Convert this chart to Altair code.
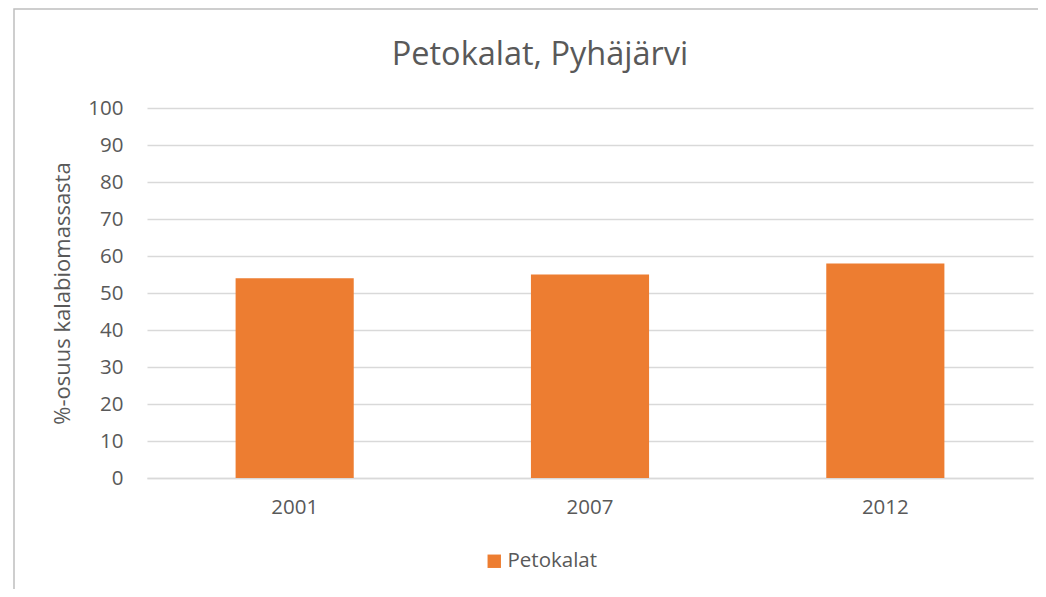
import altair as alt
import pandas as pd

years = ["2001", "2007", "2012"]
values = [54, 55, 58]
series_name = "Petokalat"
chart_title = "Petokalat, Pyhäjärvi"
y_ticks = list(range(0, 101, 10))

df = pd.DataFrame({"Vuosi": years, "Osuus": values, "Sarja": [series_name] * len(years)})

FONT = "Open Sans"
GREY = "#595959"

border = alt.Chart(pd.DataFrame({"a": [0]})).mark_rect(
    fill=None, stroke="#BFBFBF", strokeWidth=1.5, clip=False
).encode(
    x=alt.value(-133), x2=alt.value(930), y=alt.value(-99), y2=alt.value(520)
)

title = alt.Chart(pd.DataFrame({"t": [chart_title]})).mark_text(
    font=FONT, fontSize=32.5, color=GREY, align="center", baseline="middle", clip=False
).encode(text="t:N", x=alt.value(393), y=alt.value(-53))

bars = alt.Chart(df).mark_bar(color="#ED7D31").encode(
    x=alt.X("Vuosi:N", sort=years,
            scale=alt.Scale(paddingInner=0.6, paddingOuter=0.3),
            axis=alt.Axis(title=None, labelAngle=0, labelFontSize=20.5, labelColor=GREY,
                          labelFont=FONT, ticks=False, domainColor="#D9D9D9",
                          domainWidth=1.5, labelPadding=19)),
    y=alt.Y("Osuus:Q", scale=alt.Scale(domain=[0, 100]),
            axis=alt.Axis(title="%-osuus kalabiomassasta", values=y_ticks,
                          titleFontSize=22, titleFont=FONT, titleColor=GREY,
                          titleFontWeight="normal", titlePadding=13,
                          labelFontSize=20.5, labelFont=FONT, labelColor=GREY,
                          labelPadding=24, ticks=False, domain=False,
                          gridColor="#D9D9D9", gridWidth=1.5)),
    color=alt.Color("Sarja:N", scale=alt.Scale(range=["#ED7D31"]),
                    legend=alt.Legend(title=None, orient="none", legendX=337, legendY=443,
                                      symbolType="square", symbolSize=180,
                                      labelFontSize=20.5, labelFont=FONT, labelColor=GREY,
                                      labelOffset=3, symbolStrokeWidth=0)),
)

chart = alt.layer(border, title, bars).properties(
    width=886, height=370,
    autosize=alt.AutoSizeParams(type="none"),
    padding={"left": 139, "top": 100, "right": 5, "bottom": 111},
).configure_view(stroke=None)

chart.save("out.html", embed_options={"renderer": "svg", "actions": False})
